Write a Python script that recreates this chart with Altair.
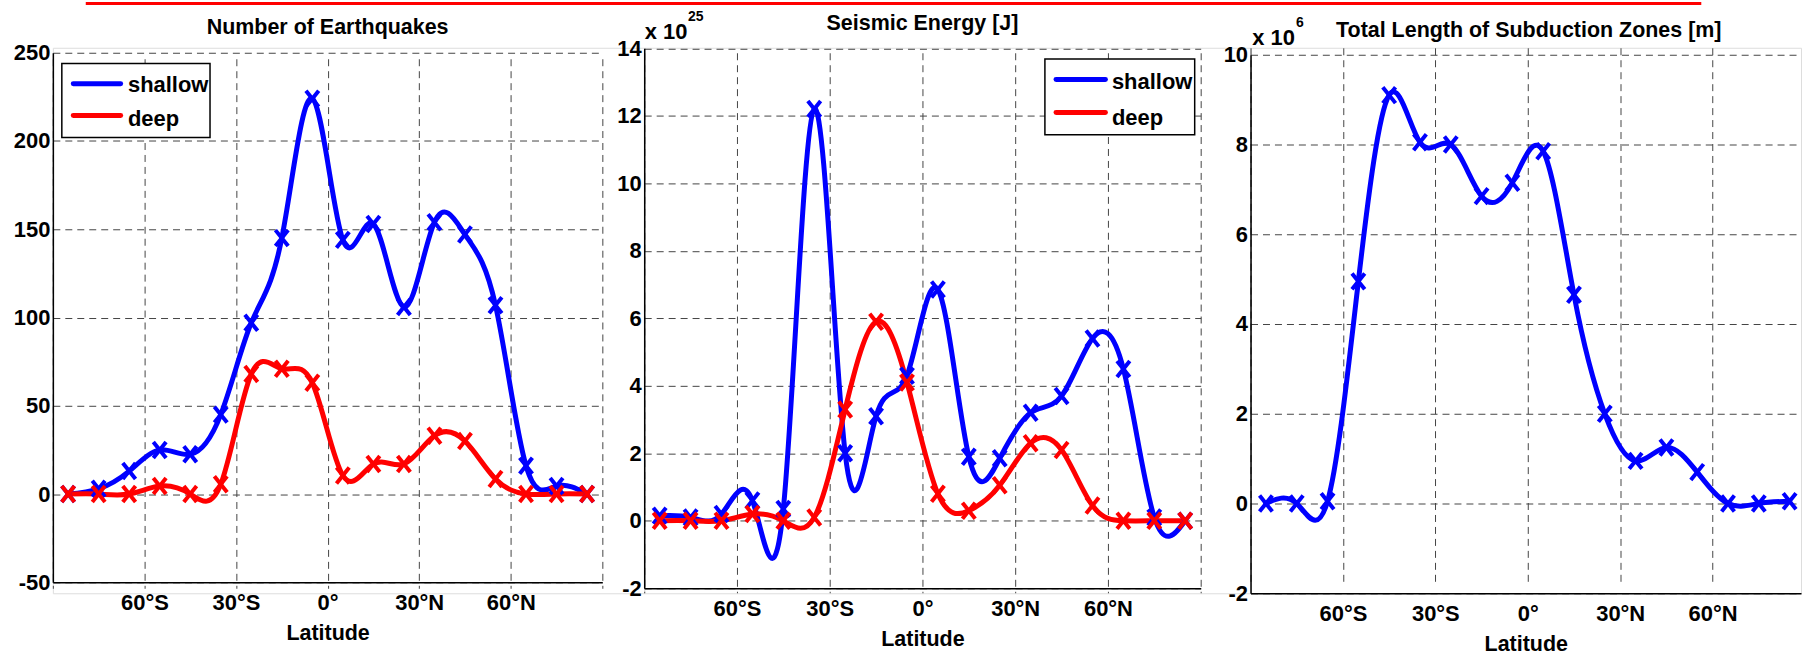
import altair as alt
import pandas as pd

# ---------------- data ----------------
# bin centres (10 degree latitude bands)
lat = [-85, -75, -65, -55, -45, -35, -25, -15, -5, 5, 15, 25, 35, 45, 55, 65, 75, 85]

series_names = ["shallow", "deep"]
series_colors = ["#0000FF", "#FF0000"]

quakes_shallow = [0, 3, 13, 25, 22.5, 45, 97, 145, 224, 144, 153, 106, 154, 147, 107, 16, 4.5, 0]
quakes_deep = [0, 0, 0, 4.5, 0, 5.5, 68, 71, 63, 10.5, 17, 17, 33, 30, 8.5, 0, 0, 0]

# seismic energy, in units of 10^25 J
energy_shallow = [0.15, 0.1, 0.2, 0.6, 0.35, 12.2, 2.0, 3.1, 4.3, 6.85, 1.9, 1.85, 3.2, 3.7, 5.4, 4.5, 0.1, 0]
energy_deep = [0, 0, 0, 0.2, 0, 0.1, 3.3, 5.9, 4.1, 0.8, 0.3, 1.05, 2.3, 2.1, 0.45, 0, 0, 0]

# total subduction-zone length, in units of 10^6 m
subduction_length = [0, 0, 0.05, 4.95, 9.1, 8.05, 8.0, 6.85, 7.15, 7.85, 4.65, 2.0, 0.95, 1.25, 0.7, 0, 0, 0.05]

lat_ticks = [-90, -60, -30, 0, 30, 60, 90]
quake_ticks = [-50, 0, 50, 100, 150, 200, 250]
energy_ticks = [-2, 0, 2, 4, 6, 8, 10, 12, 14]
length_ticks = [-2, 0, 2, 4, 6, 8, 10]

titles = ["Number of Earthquakes", "Seismic Energy [J]", "Total Length of Subduction Zones [m]"]
x_title = "Latitude"

# ---------------- styling ----------------
FONT = "Liberation Sans, Arial, Helvetica, sans-serif"
X_SHAPE = "M-0.8,-1L0.8,1M-0.8,1L0.8,-1"
LINE_W = 5
LAT_LABEL = ("datum.value == 0 ? '0°' : abs(datum.value) >= 90 ? '' : "
             "datum.value < 0 ? (-datum.value) + '°S' : datum.value + '°N'")
NUM_LABEL = "'' + datum.value"

color_scale = alt.Scale(domain=series_names, range=series_colors)


def long_table(pairs):
    rows = []
    for name, values in pairs:
        for la, v in zip(lat, values):
            rows.append({"lat": la, "value": v, "series": name})
    return pd.DataFrame(rows)


def one_row(**kw):
    return pd.DataFrame([kw])


def text_layer(txt, x, y, size, align="left", weight="bold"):
    return alt.Chart(one_row(t=txt)).mark_text(
        font=FONT, fontSize=size, fontWeight=weight, align=align,
        baseline="alphabetic", color="black"
    ).encode(text="t:N", x=alt.value(x), y=alt.value(y))


def legend_layers(box, line_x, line_ys, text_x, text_ys, entries):
    x1, x2, y1, y2 = box
    layers = [
        alt.Chart(one_row(k=0)).mark_rect(fill="white", stroke="black", strokeWidth=1.5)
        .encode(x=alt.value(x1), x2=alt.value(x2), y=alt.value(y1), y2=alt.value(y2))
    ]
    for (name, col), ly, ty in zip(entries, line_ys, text_ys):
        layers.append(
            alt.Chart(one_row(series=name)).mark_rule(strokeWidth=LINE_W, strokeCap="round")
            .encode(x=alt.value(line_x[0]), x2=alt.value(line_x[1]), y=alt.value(ly),
                    color=alt.Color("series:N", scale=color_scale, legend=None))
        )
        layers.append(text_layer(name, text_x, ty, 22))
    return layers


def panel(df, x_domain, x_range, x_values, y_domain, y_range, y_values, width, height,
          axis_offset, title_y, title_x, extra):
    x_enc = alt.X(
        "lat:Q",
        scale=alt.Scale(domain=x_domain, range=x_range, nice=False, zero=False),
        axis=alt.Axis(values=x_values, labelExpr=LAT_LABEL, title=x_title, offset=axis_offset,
                      titleY=57, titleBaseline="alphabetic", labelPadding=10,
                      labelFlush=False, labelOverlap=False),
    )
    y_enc = alt.Y(
        "value:Q",
        scale=alt.Scale(domain=y_domain, range=y_range, nice=False, zero=False),
        axis=alt.Axis(values=y_values, labelExpr=NUM_LABEL, title=None, labelPadding=3,
                      labelOverlap=False),
    )
    base = alt.Chart(df).encode(
        x=x_enc, y=y_enc, color=alt.Color("series:N", scale=color_scale, legend=None)
    )
    curve = base.mark_line(interpolate="natural", strokeWidth=LINE_W,
                           strokeJoin="round", strokeCap="round")
    crosses = base.mark_point(shape=X_SHAPE, size=256, filled=False, strokeWidth=4, opacity=1)
    layers = [curve, crosses, text_layer(titles[title_x[0]], title_x[1], title_y, 21.5, "center")]
    layers += extra
    return alt.layer(*layers).properties(width=width, height=height)


# panel geometry: group widths, plot ranges inside each group
H = 547

p1 = panel(
    long_table([("shallow", quakes_shallow), ("deep", quakes_deep)]),
    [-90, 90], [0, 551], lat_ticks, [-50, 250], [536, 5], quake_ticks,
    593, H, -11, -14.3, (0, 275.5),
    legend_layers((9, 157.6, 15.7, 90), (20.5, 68), (36, 68), 75.3, (44.5, 78.5),
                  list(zip(series_names, series_colors)))
    + [
        # frame markers: thin top banner line and left page edge
        alt.Chart(one_row(k=0)).mark_rule(color="#FF0000", strokeWidth=3, strokeCap="butt")
        .encode(x=alt.value(33), x2=alt.value(1653), y=alt.value(-44.5)),
        alt.Chart(one_row(k=0)).mark_rule(color="white", strokeWidth=1)
        .encode(x=alt.value(-51.5), y=alt.value(0), y2=alt.value(1)),
    ],
)

p2 = panel(
    long_table([("shallow", energy_shallow), ("deep", energy_deep)]),
    [-90, 90], [0, 558], lat_ticks, [-2, 14], [542, 0.5], energy_ticks,
    608, H, -5, -17.7, (1, 279),
    legend_layers((401.8, 552, 11.3, 87.3), (413, 462.5), (31.7, 65), 469, (41.3, 77.3),
                  list(zip(series_names, series_colors)))
    + [text_layer("x 10", 0.5, -9.3, 22), text_layer("25", 44, -27, 14)],
)

p3 = panel(
    long_table([("shallow", subduction_length)]),
    [-90, 88.7], [0, 552], lat_ticks[:-1], [-2, 10], [547, 7], length_ticks,
    552, H, 0, -11, (2, 279),
    [text_layer("x 10", 1.7, -3, 22), text_layer("6", 45.5, -21, 14)],
)

chart = (
    alt.hconcat(p1, p2, p3, spacing=0, bounds="flush",
                padding={"left": 0, "top": 0, "right": 0, "bottom": 0})
    .configure_view(stroke=None)
    .configure(background="white")
    .configure_axis(
        domainColor="black", domainWidth=1.5, ticks=False, grid=True,
        gridColor="#444444", gridDash=[7, 5], gridWidth=1, gridOpacity=1,
        labelFont=FONT, labelFontSize=22, labelFontWeight="bold", labelColor="black",
        titleFont=FONT, titleFontSize=21.5, titleFontWeight="bold", titleColor="black",
    )
)

chart.save("out.html", embed_options={"renderer": "svg", "actions": False})
